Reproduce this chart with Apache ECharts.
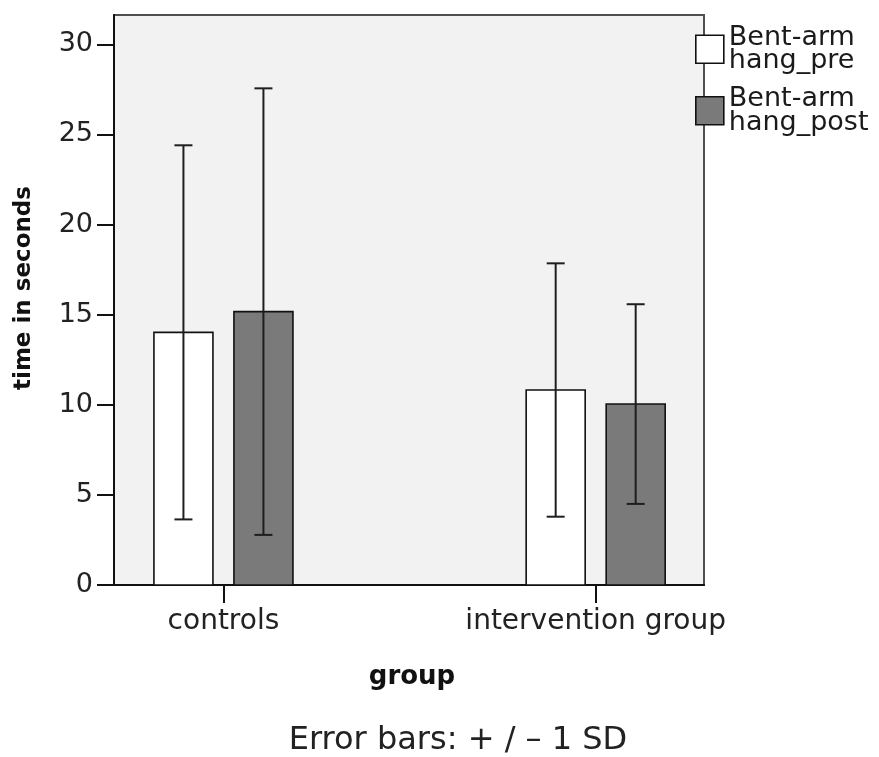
<!DOCTYPE html>
<html>
<head>
<meta charset="utf-8">
<script src="https://cdn.jsdelivr.net/npm/echarts@6/dist/echarts.min.js"></script>
<style>
  html, body { margin: 0; padding: 0; background: #fff; }
  #chart { width: 879px; height: 757px; }
</style>
</head>
<body>
<div id="chart"></div>
<script>
// Groups along the x axis (position = index)
const categories = ['controls', 'intervention group'];
const seriesNames = ['Bent-arm hang_pre', 'Bent-arm hang_post'];
const legendLabels = ['Bent-arm\nhang_pre', 'Bent-arm\nhang_post'];

// Means (seconds) and standard deviations
const preMean = [14.02, 10.82];
const preSD = [10.38, 7.03];
const postMean = [15.17, 10.04];
const postSD = [12.39, 5.54];

// Y axis ticks
const yTicks = [0, 5, 10, 15, 20, 25, 30];

const FONT = 'DejaVu Sans';
const BAR_W = 59;
const OFFSETS = [-40, 40];
const FILLS = ['#ffffff', '#7a7a7a'];

function barRenderer(offset, fill) {
  return function (params, api) {
    const x = api.value(0);
    const base = api.coord([x, 0]);
    const top = api.coord([x, api.value(1)]);
    const cx = base[0] + offset;
    return {
      type: 'rect',
      shape: { x: cx - BAR_W / 2, y: top[1], width: BAR_W, height: base[1] - top[1] },
      style: { fill: fill, stroke: '#111', lineWidth: 1.6 }
    };
  };
}

function errRenderer(offset) {
  return function (params, api) {
    const x = api.value(0);
    const m = api.value(1), s = api.value(2);
    const hi = api.coord([x, m + s]);
    const lo = api.coord([x, m - s]);
    const cx = hi[0] + offset;
    const cap = 9;
    const st = { stroke: '#1e1e1e', lineWidth: 2 };
    return {
      type: 'group',
      children: [
        { type: 'line', shape: { x1: cx, y1: hi[1], x2: cx, y2: lo[1] }, style: st },
        { type: 'line', shape: { x1: cx - cap, y1: hi[1], x2: cx + cap, y2: hi[1] }, style: st },
        { type: 'line', shape: { x1: cx - cap, y1: lo[1], x2: cx + cap, y2: lo[1] }, style: st }
      ]
    };
  };
}

const means = [preMean, postMean];
const sds = [preSD, postSD];

const series = [];
for (let k = 0; k < 2; k++) {
  series.push({
    name: seriesNames[k],
    type: 'custom',
    renderItem: barRenderer(OFFSETS[k], FILLS[k]),
    itemStyle: { color: FILLS[k], borderColor: '#111', borderWidth: 1.6 },
    encode: { x: 0, y: 1 },
    data: categories.map((c, i) => [i, means[k][i]]),
    z: 2
  });
}
for (let k = 0; k < 2; k++) {
  series.push({
    name: seriesNames[k],
    type: 'custom',
    renderItem: errRenderer(OFFSETS[k]),
    encode: { x: 0, y: [1, 2] },
    data: categories.map((c, i) => [i, means[k][i], sds[k][i]]),
    z: 3,
    silent: true
  });
}

const chart = echarts.init(document.getElementById('chart'), null, { renderer: 'canvas' });
chart.setOption({
  animation: false,
  backgroundColor: '#ffffff',
  textStyle: { fontFamily: FONT },
  grid: {
    left: 114, top: 15, right: 175, bottom: 172,
    show: true, backgroundColor: '#f2f2f2', borderColor: '#505050', borderWidth: 2
  },
  legend: {
    orient: 'vertical',
    left: 695, top: 24,
    padding: 0,
    itemWidth: 28, itemHeight: 28, itemGap: 11,
    icon: 'rect',
    selectedMode: false,
    data: seriesNames.map((n, k) => ({
      name: n,
      itemStyle: { color: FILLS[k], borderColor: '#111', borderWidth: 1.6 }
    })),
    formatter: name => legendLabels[seriesNames.indexOf(name)],
    textStyle: { fontFamily: FONT, fontSize: 27, color: '#1a1a1a', lineHeight: 23.5, padding: [0, 0, 0, 0] }
  },
  xAxis: {
    type: 'value',
    min: -0.294, max: 1.291,
    splitLine: { show: false },
    axisLine: { show: true, onZero: false, lineStyle: { color: '#111', width: 2 } },
    axisTick: { show: true, customValues: categories.map((c, i) => i), length: 18, lineStyle: { color: '#111', width: 2 } },
    axisLabel: {
      customValues: categories.map((c, i) => i),
      formatter: v => categories[Math.round(v)],
      fontFamily: FONT, fontSize: 28, color: '#222', margin: 23
    }
  },
  yAxis: {
    type: 'value',
    min: 0, max: 31.63,
    splitLine: { show: false },
    axisLine: { show: true, onZero: false, lineStyle: { color: '#111', width: 2 } },
    axisTick: { show: true, customValues: yTicks, length: 17, lineStyle: { color: '#111', width: 2 } },
    axisLabel: {
      customValues: yTicks,
      fontFamily: FONT, fontSize: 27, color: '#222', margin: 21
    }
  },
  graphic: [
    {
      type: 'text',
      x: 24, y: 288,
      rotation: Math.PI / 2,
      style: {
        text: 'time in seconds', fontFamily: FONT, fontSize: 23, fontWeight: 'bold',
        fill: '#111', align: 'center', verticalAlign: 'middle'
      }
    },
    {
      type: 'text',
      x: 412, y: 677,
      style: {
        text: 'group', fontFamily: FONT, fontSize: 26, fontWeight: 'bold',
        fill: '#111', align: 'center', verticalAlign: 'middle'
      }
    },
    {
      type: 'text',
      x: 458, y: 741,
      style: {
        text: 'Error bars: + / \u2013 1 SD', fontFamily: FONT, fontSize: 32,
        fill: '#222', align: 'center', verticalAlign: 'middle'
      }
    }
  ],
  series: series
});
</script>
</body>
</html>
